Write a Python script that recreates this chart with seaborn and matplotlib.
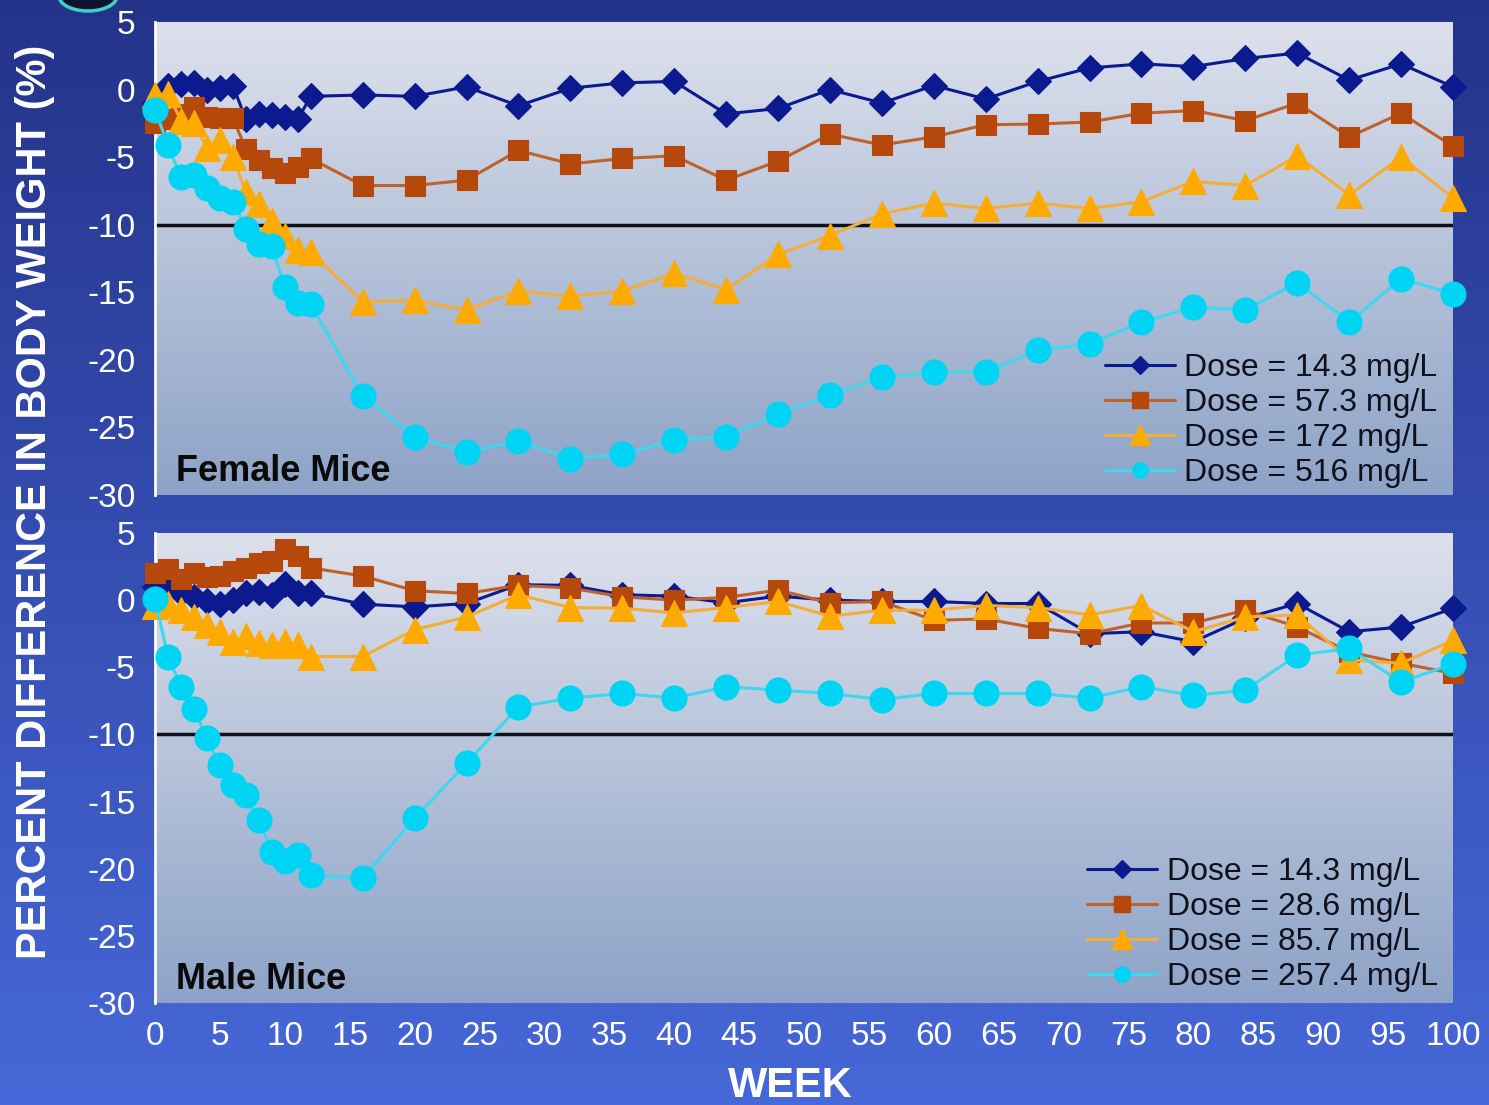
import numpy as np
import matplotlib
matplotlib.use("Agg")
import matplotlib.pyplot as plt
import seaborn as sns
from matplotlib.lines import Line2D
from matplotlib.patches import Ellipse
from matplotlib.colors import LinearSegmentedColormap

# ---- data: percent difference in body weight vs. control, by week ----
weeks = list(range(0, 13)) + list(range(16, 101, 4))

female_14_3 = [-1.0, 0.3, 0.4, 0.5, 0.0, 0.1, 0.3, -2.2, -1.8, -1.9, -2.0, -2.2, -0.5,
               -0.4, -0.5, 0.2, -1.2, 0.1, 0.5, 0.6, -1.8, -1.4, 0.0, -1.0, 0.3, -0.7,
               0.6, 1.6, 1.9, 1.7, 2.3, 2.7, 0.7, 1.9, 0.2]
female_57_3 = [-2.5, -2.2, -1.8, -1.3, -2.0, -2.1, -2.1, -4.4, -5.2, -5.8, -6.2, -5.7, -5.1,
               -7.1, -7.1, -6.7, -4.5, -5.5, -5.1, -4.9, -6.7, -5.3, -3.3, -4.1, -3.5, -2.6,
               -2.55, -2.4, -1.75, -1.55, -2.3, -1.0, -3.5, -1.75, -4.2]
female_172 = [-0.4, -0.3, -2.3, -2.5, -4.3, -3.7, -5.0, -7.6, -8.5, -9.7, -10.8, -11.9, -12.0,
              -15.7, -15.6, -16.3, -14.9, -15.3, -14.9, -13.6, -14.8, -12.2, -10.8, -9.2, -8.4, -8.8,
              -8.4, -8.8, -8.3, -6.8, -7.1, -4.9, -7.8, -5.0, -8.0]
female_516 = [-1.5, -4.1, -6.5, -6.3, -7.3, -8.0, -8.3, -10.3, -11.4, -11.6, -14.6, -15.8, -15.9,
              -22.7, -25.7, -26.8, -26.0, -27.3, -27.0, -25.9, -25.7, -24.0, -22.6, -21.3, -20.9, -20.9,
              -19.3, -18.8, -17.2, -16.1, -16.3, -14.3, -17.2, -14.0, -15.1]

male_14_3 = [1.0, 0.9, 0.5, 0.25, -0.1, -0.25, 0.0, 0.5, 0.6, 0.4, 1.2, 0.5, 0.5,
             -0.3, -0.5, -0.25, 1.15, 1.1, 0.4, 0.3, -0.2, 0.3, 0.0, -0.1, -0.1, -0.25,
             -0.25, -2.5, -2.35, -3.1, -1.35, -0.25, -2.35, -2.0, -0.6]
male_28_6 = [2.0, 2.3, 1.6, 2.0, 1.7, 1.8, 2.2, 2.4, 2.8, 2.9, 3.8, 3.3, 2.4,
             1.8, 0.7, 0.5, 1.1, 0.9, 0.25, 0.0, 0.2, 0.75, -0.2, -0.1, -1.5, -1.4,
             -2.1, -2.5, -1.7, -1.7, -0.75, -2.0, -3.85, -4.7, -5.45]
male_85_7 = [-0.4, -0.25, -0.75, -1.25, -1.85, -2.35, -3.1, -2.7, -3.2, -3.35, -3.1, -3.35, -4.2,
             -4.2, -2.2, -1.25, 0.4, -0.55, -0.6, -0.95, -0.55, -0.1, -1.2, -0.75, -0.75, -0.4,
             -0.55, -1.1, -0.4, -2.35, -1.25, -1.1, -4.45, -4.7, -3.0]
male_257_4 = [0.1, -4.2, -6.45, -8.1, -10.3, -12.3, -13.8, -14.5, -16.4, -18.75, -19.4, -19.0, -20.5,
              -20.7, -16.25, -12.15, -7.95, -7.3, -6.95, -7.3, -6.45, -6.7, -6.95, -7.4, -6.95, -6.95,
              -6.95, -7.3, -6.45, -7.1, -6.7, -4.1, -3.6, -6.1, -4.75]

female_labels = ["Dose = 14.3 mg/L", "Dose = 57.3 mg/L", "Dose = 172 mg/L", "Dose = 516 mg/L"]
male_labels = ["Dose = 14.3 mg/L", "Dose = 28.6 mg/L", "Dose = 85.7 mg/L", "Dose = 257.4 mg/L"]
panel_titles = ["Female Mice", "Male Mice"]
y_ticks = [5, 0, -5, -10, -15, -20, -25, -30]
x_ticks = list(range(0, 101, 5))
y_label = "PERCENT DIFFERENCE IN BODY WEIGHT (%)"
x_label = "WEEK"

# ---- styling ----
sns.set_style("white")
FONT = ["Liberation Sans", "DejaVu Sans"]
plt.rcParams["font.family"] = FONT
plt.rcParams["axes.unicode_minus"] = False

series_styles = [
    dict(marker="D", ms=13.5, line="#0b1a8f", face="#0b1a8f", lms=9),
    dict(marker="s", ms=15, line="#c0602a", face="#b5480a", lms=11),
    dict(marker="^", ms=19, line="#f5ad3a", face="#ffaa00", lms=14),
    dict(marker="o", ms=18, line="#3fd6f0", face="#00d4f5", lms=11),
]

fig = plt.figure(figsize=(14.89, 11.05), dpi=100)

# slide background: vertical blue gradient
grad = np.linspace(0, 1, 256)[:, None]
bg = fig.add_axes([0, 0, 1, 1], zorder=-10)
bg.imshow(grad, aspect="auto", origin="upper", extent=[0, 1, 0, 1],
          cmap=LinearSegmentedColormap.from_list("slide", ["#24338a", "#4668d8"]))
bg.axis("off")

panel_cmap = LinearSegmentedColormap.from_list("panel", ["#dde1ec", "#8da3c7"])

left, width = 155 / 1489, (1453 - 155) / 1489
ax_top = fig.add_axes([left, 1 - 495 / 1105, width, (495 - 22) / 1105])
ax_bot = fig.add_axes([left, 1 - 1003 / 1105, width, (1003 - 533) / 1105])

panels = [
    (ax_top, [female_14_3, female_57_3, female_172, female_516], female_labels,
     panel_titles[0], -0.026),
    (ax_bot, [male_14_3, male_28_6, male_85_7, male_257_4], male_labels,
     panel_titles[1], -0.018),
]

for ax, series, labels, title, leg_y in panels:
    ax.imshow(grad, aspect="auto", origin="upper", extent=[0, 100, -30, 5],
              cmap=panel_cmap, zorder=0)
    ax.axhline(-10, color="#101018", lw=2.5, zorder=1)
    for values, st in zip(series, series_styles):
        sns.lineplot(x=weeks, y=values, ax=ax, color=st["line"], lw=2.2,
                     marker=st["marker"], markersize=st["ms"],
                     markerfacecolor=st["face"], markeredgecolor=st["face"],
                     markeredgewidth=0.8, estimator=None, clip_on=False, zorder=3)
    ax.set_xlim(0, 100)
    ax.set_ylim(-30, 5)
    ax.set_yticks(y_ticks)
    ax.set_xticks(x_ticks)
    ax.grid(False)
    for side in ["top", "right", "bottom"]:
        ax.spines[side].set_visible(False)
    ax.spines["left"].set_color("white")
    ax.spines["left"].set_linewidth(2)
    ax.tick_params(axis="y", colors="white", length=9, width=2, direction="out",
                   labelsize=24, pad=5)
    ax.tick_params(axis="x", colors="white", length=0, labelsize=24, pad=13)
    ax.text(0.016, 0.03, title, transform=ax.transAxes, fontsize=26,
            fontweight="bold", color="#0a0a0a", ha="left", va="baseline", zorder=5)
    handles = [Line2D([], [], color=st["line"], lw=2.2, marker=st["marker"],
                      markersize=st["lms"], markerfacecolor=st["face"],
                      markeredgecolor=st["face"]) for st in series_styles]
    leg = ax.legend(handles, labels, loc="lower right", bbox_to_anchor=(1.003, leg_y),
                    frameon=False, fontsize=23, handlelength=2.2, handletextpad=0.3,
                    labelspacing=0.16, borderaxespad=0.2)
    for t in leg.get_texts():
        t.set_color("#10101c")

ax_top.tick_params(axis="x", labelbottom=False)

fig.text(35 / 1489, 1 - 502 / 1105, y_label, rotation=90, ha="center", va="center",
         color="white", fontsize=30, fontweight="bold",
         family=["Liberation Sans Narrow", "Liberation Sans", "DejaVu Sans"])
fig.text(790 / 1489, 1 - 1086 / 1105, x_label, ha="center", va="center",
         color="white", fontsize=30, fontweight="bold")

# corner ornament of the slide
fig.add_artist(Ellipse((88 / 1489, 1 + 4 / 1105), 58 / 1489, 30 / 1105,
                       transform=fig.transFigure, facecolor="#0c1230",
                       edgecolor="#3fd0c8", lw=2.5, zorder=20))

fig.savefig("out.png", dpi=100)
